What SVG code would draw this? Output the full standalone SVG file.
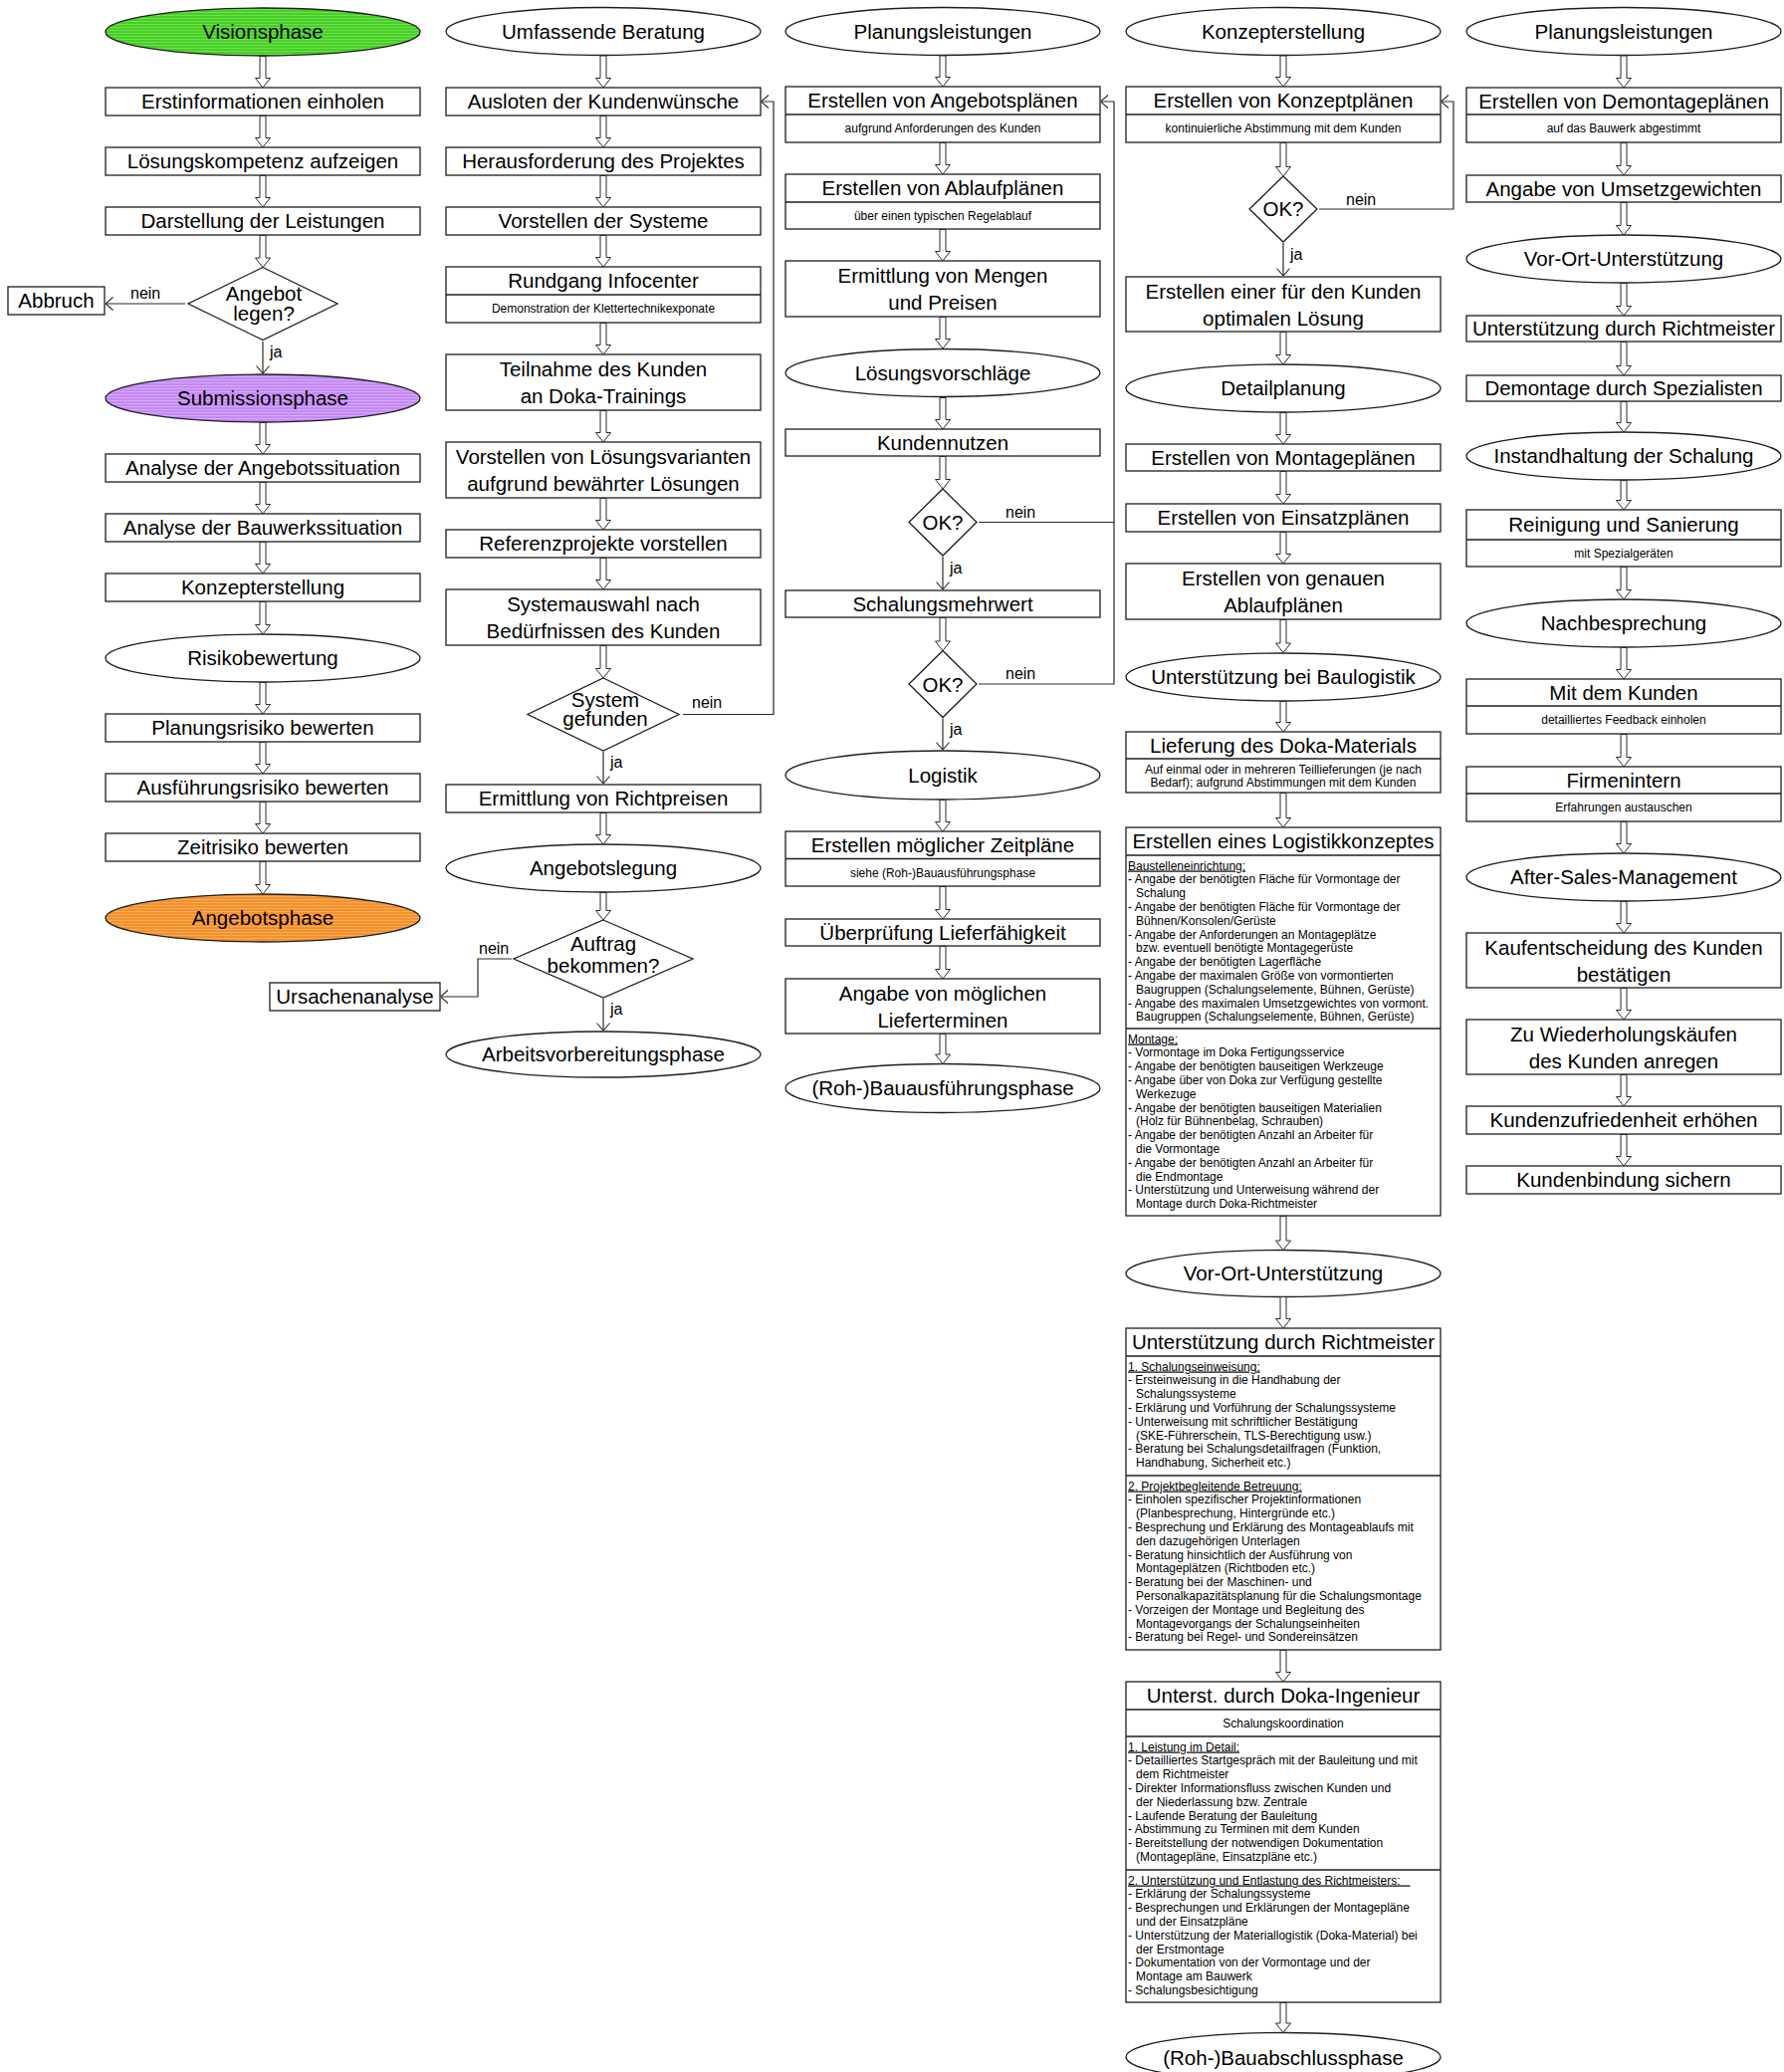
<svg xmlns="http://www.w3.org/2000/svg" width="1792" height="2081" viewBox="0 0 1792 2081">
<style>
.nd rect,.nd ellipse,.nd polygon{fill:#fff;stroke:#1e1e1e;stroke-width:1.3}
.dv{stroke:#1e1e1e;stroke-width:1.3}
text{font-family:"Liberation Sans",Arial,sans-serif;fill:#000}
.t{font-size:20.5px;text-anchor:middle}
.s{font-size:12px;text-anchor:middle}
.b{font-size:12px}
.u{text-decoration:underline}
.l{font-size:16px}
.ba{fill:#fff;stroke:#2a2a2a;stroke-width:1}
.ln{fill:none;stroke:#2a2a2a;stroke-width:1.2}
.ar{marker-end:url(#oa)}
</style>
<defs>
<pattern id="pV" width="8" height="3" patternUnits="userSpaceOnUse"><rect width="8" height="3" fill="#47cf26"/><rect width="8" height="1" fill="#6ee04e"/></pattern>
<pattern id="pS" width="8" height="3" patternUnits="userSpaceOnUse"><rect width="8" height="3" fill="#c489f4"/><rect width="8" height="1" fill="#d6a9fb"/></pattern>
<pattern id="pA" width="8" height="3" patternUnits="userSpaceOnUse"><rect width="8" height="3" fill="#f5912a"/><rect width="8" height="1" fill="#f8ac5c"/></pattern>
<marker id="oa" viewBox="0 0 8 14" refX="8" refY="7" markerWidth="8" markerHeight="14" markerUnits="userSpaceOnUse" orient="auto"><path d="M0.5,0.5 L8,7 L0.5,13.5" fill="none" stroke="#2a2a2a" stroke-width="1.1"/></marker>
</defs>
<rect width="1792" height="2081" fill="#fff"/>

<!-- Column 1 -->
<g id="c1-visionsphase" class="nd"><ellipse cx="264" cy="32" rx="158" ry="24" style="fill:url(#pV)"/><text class="t" x="264" y="39">Visionsphase</text></g>
<g id="c1-erstinfo" class="nd"><rect x="106" y="88" width="316" height="28"/><text class="t" x="264" y="109">Erstinformationen einholen</text></g>
<g id="c1-loesungskompetenz" class="nd"><rect x="106" y="148" width="316" height="28"/><text class="t" x="264" y="169">Lösungskompetenz aufzeigen</text></g>
<g id="c1-darstellung" class="nd"><rect x="106" y="208" width="316" height="28"/><text class="t" x="264" y="229">Darstellung der Leistungen</text></g>
<g id="c1-angebot-legen" class="nd"><polygon points="264,268.5 339,305 264,341.5 189,305"/><text class="t" x="265" y="302">Angebot</text><text class="t" x="265" y="322">legen?</text></g>
<g id="c1-abbruch" class="nd"><rect x="8" y="288" width="97" height="28"/><text class="t" x="56.5" y="309">Abbruch</text></g>
<g id="c1-submissionsphase" class="nd"><ellipse cx="264" cy="400" rx="158" ry="24" style="fill:url(#pS)"/><text class="t" x="264" y="407">Submissionsphase</text></g>
<g id="c1-analyse-angebot" class="nd"><rect x="106" y="456" width="316" height="28"/><text class="t" x="264" y="477">Analyse der Angebotssituation</text></g>
<g id="c1-analyse-bauwerk" class="nd"><rect x="106" y="516" width="316" height="28"/><text class="t" x="264" y="537">Analyse der Bauwerkssituation</text></g>
<g id="c1-konzepterstellung" class="nd"><rect x="106" y="576" width="316" height="28"/><text class="t" x="264" y="597">Konzepterstellung</text></g>
<g id="c1-risikobewertung" class="nd"><ellipse cx="264" cy="661" rx="158" ry="24"/><text class="t" x="264" y="668">Risikobewertung</text></g>
<g id="c1-planungsrisiko" class="nd"><rect x="106" y="717" width="316" height="28"/><text class="t" x="264" y="738">Planungsrisiko bewerten</text></g>
<g id="c1-ausfuehrungsrisiko" class="nd"><rect x="106" y="777" width="316" height="28"/><text class="t" x="264" y="798">Ausführungsrisiko bewerten</text></g>
<g id="c1-zeitrisiko" class="nd"><rect x="106" y="837" width="316" height="28"/><text class="t" x="264" y="858">Zeitrisiko bewerten</text></g>
<g id="c1-angebotsphase" class="nd"><ellipse cx="264" cy="922" rx="158" ry="24" style="fill:url(#pA)"/><text class="t" x="264" y="929">Angebotsphase</text></g>

<!-- Column 2 -->
<g id="c2-beratung" class="nd"><ellipse cx="606" cy="31.5" rx="158" ry="24"/><text class="t" x="606" y="39">Umfassende Beratung</text></g>
<g id="c2-ausloten" class="nd"><rect x="448" y="88" width="316" height="28"/><text class="t" x="606" y="109">Ausloten der Kundenwünsche</text></g>
<g id="c2-herausforderung" class="nd"><rect x="448" y="148" width="316" height="28"/><text class="t" x="606" y="169">Herausforderung des Projektes</text></g>
<g id="c2-systeme" class="nd"><rect x="448" y="208" width="316" height="28"/><text class="t" x="606" y="229">Vorstellen der Systeme</text></g>
<g id="c2-rundgang" class="nd"><rect x="448" y="268" width="316" height="56"/><line class="dv" x1="448" y1="296" x2="764" y2="296"/><text class="t" x="606" y="289">Rundgang Infocenter</text><text class="s" x="606" y="314">Demonstration der Klettertechnikexponate</text></g>
<g id="c2-teilnahme" class="nd"><rect x="448" y="356" width="316" height="56"/><text class="t" x="606" y="377.5">Teilnahme des Kunden</text><text class="t" x="606" y="405">an Doka-Trainings</text></g>
<g id="c2-loesungsvarianten" class="nd"><rect x="448" y="444" width="316" height="56"/><text class="t" x="606" y="465.5">Vorstellen von Lösungsvarianten</text><text class="t" x="606" y="493">aufgrund bewährter Lösungen</text></g>
<g id="c2-referenz" class="nd"><rect x="448" y="532" width="316" height="28"/><text class="t" x="606" y="553">Referenzprojekte vorstellen</text></g>
<g id="c2-systemauswahl" class="nd"><rect x="448" y="592" width="316" height="56"/><text class="t" x="606" y="613.5">Systemauswahl nach</text><text class="t" x="606" y="641">Bedürfnissen des Kunden</text></g>
<g id="c2-system-gefunden" class="nd"><polygon points="606,681 682,717.5 606,754 530,717.5"/><text class="t" x="608" y="710">System</text><text class="t" x="608" y="729">gefunden</text></g>
<g id="c2-richtpreise" class="nd"><rect x="448" y="788" width="316" height="28"/><text class="t" x="606" y="809">Ermittlung von Richtpreisen</text></g>
<g id="c2-angebotslegung" class="nd"><ellipse cx="606" cy="872" rx="158" ry="24"/><text class="t" x="606" y="879">Angebotslegung</text></g>
<g id="c2-auftrag" class="nd"><polygon points="606,924 696,963 606,1002 516,963"/><text class="t" x="606" y="955">Auftrag</text><text class="t" x="606" y="977">bekommen?</text></g>
<g id="c2-ursachenanalyse" class="nd"><rect x="271" y="987" width="171" height="28"/><text class="t" x="356.5" y="1008">Ursachenanalyse</text></g>
<g id="c2-arbeitsvorbereitung" class="nd"><ellipse cx="606" cy="1059" rx="158" ry="23"/><text class="t" x="606" y="1066">Arbeitsvorbereitungsphase</text></g>

<!-- Column 3 -->
<g id="c3-planung" class="nd"><ellipse cx="947" cy="31.5" rx="158" ry="24"/><text class="t" x="947" y="39">Planungsleistungen</text></g>
<g id="c3-angebotsplaene" class="nd"><rect x="789" y="87" width="316" height="56"/><line class="dv" x1="789" y1="115" x2="1105" y2="115"/><text class="t" x="947" y="108">Erstellen von Angebotsplänen</text><text class="s" x="947" y="133">aufgrund Anforderungen des Kunden</text></g>
<g id="c3-ablaufplaene" class="nd"><rect x="789" y="175" width="316" height="55"/><line class="dv" x1="789" y1="203" x2="1105" y2="203"/><text class="t" x="947" y="196">Erstellen von Ablaufplänen</text><text class="s" x="947" y="221">über einen typischen Regelablauf</text></g>
<g id="c3-mengen" class="nd"><rect x="789" y="262" width="316" height="56"/><text class="t" x="947" y="283.5">Ermittlung von Mengen</text><text class="t" x="947" y="311">und Preisen</text></g>
<g id="c3-loesungsvorschlaege" class="nd"><ellipse cx="947" cy="374.5" rx="158" ry="24"/><text class="t" x="947" y="382">Lösungsvorschläge</text></g>
<g id="c3-kundennutzen" class="nd"><rect x="789" y="431" width="316" height="27"/><text class="t" x="947" y="451.5">Kundennutzen</text></g>
<g id="c3-ok1" class="nd"><polygon points="947,491 981,524.5 947,558 913,524.5"/><text class="t" x="947" y="532">OK?</text></g>
<g id="c3-mehrwert" class="nd"><rect x="789" y="593" width="316" height="27"/><text class="t" x="947" y="613.5">Schalungsmehrwert</text></g>
<g id="c3-ok2" class="nd"><polygon points="947,653.5 981,687 947,720.5 913,687"/><text class="t" x="947" y="694.5">OK?</text></g>
<g id="c3-logistik" class="nd"><ellipse cx="947" cy="778.5" rx="158" ry="24.5"/><text class="t" x="947" y="786">Logistik</text></g>
<g id="c3-zeitplaene" class="nd"><rect x="789" y="835" width="316" height="55"/><line class="dv" x1="789" y1="862.5" x2="1105" y2="862.5"/><text class="t" x="947" y="856">Erstellen möglicher Zeitpläne</text><text class="s" x="947" y="881">siehe (Roh-)Bauausführungsphase</text></g>
<g id="c3-lieferfaehigkeit" class="nd"><rect x="789" y="923" width="316" height="27"/><text class="t" x="947" y="944">Überprüfung Lieferfähigkeit</text></g>
<g id="c3-liefertermine" class="nd"><rect x="789" y="983" width="316" height="55"/><text class="t" x="947" y="1004.5">Angabe von möglichen</text><text class="t" x="947" y="1032">Lieferterminen</text></g>
<g id="c3-bauausfuehrung" class="nd"><ellipse cx="947" cy="1093" rx="158" ry="24.5"/><text class="t" x="947" y="1100">(Roh-)Bauausführungsphase</text></g>

<!-- Column 4 -->
<g id="c4-konzept" class="nd"><ellipse cx="1289" cy="31.5" rx="158" ry="24"/><text class="t" x="1289" y="39">Konzepterstellung</text></g>
<g id="c4-konzeptplaene" class="nd"><rect x="1131" y="87" width="316" height="56"/><line class="dv" x1="1131" y1="115" x2="1447" y2="115"/><text class="t" x="1289" y="108">Erstellen von Konzeptplänen</text><text class="s" x="1289" y="133">kontinuierliche Abstimmung mit dem Kunden</text></g>
<g id="c4-ok" class="nd"><polygon points="1289,177 1323,210 1289,243 1255,210"/><text class="t" x="1289" y="217">OK?</text></g>
<g id="c4-optimal" class="nd"><rect x="1131" y="278" width="316" height="55"/><text class="t" x="1289" y="299.5">Erstellen einer für den Kunden</text><text class="t" x="1289" y="327">optimalen Lösung</text></g>
<g id="c4-detailplanung" class="nd"><ellipse cx="1289" cy="390" rx="158" ry="24"/><text class="t" x="1289" y="397">Detailplanung</text></g>
<g id="c4-montageplaene" class="nd"><rect x="1131" y="446" width="316" height="27"/><text class="t" x="1289" y="466.5">Erstellen von Montageplänen</text></g>
<g id="c4-einsatzplaene" class="nd"><rect x="1131" y="506" width="316" height="28"/><text class="t" x="1289" y="527">Erstellen von Einsatzplänen</text></g>
<g id="c4-genaue-ablaufplaene" class="nd"><rect x="1131" y="566" width="316" height="56"/><text class="t" x="1289" y="587.5">Erstellen von genauen</text><text class="t" x="1289" y="615">Ablaufplänen</text></g>
<g id="c4-baulogistik" class="nd"><ellipse cx="1289" cy="680" rx="158" ry="24"/><text class="t" x="1289" y="687">Unterstützung bei Baulogistik</text></g>
<g id="c4-lieferung" class="nd"><rect x="1131" y="735" width="316" height="61"/><line class="dv" x1="1131" y1="762" x2="1447" y2="762"/><text class="t" x="1289" y="756">Lieferung des Doka-Materials</text><text class="s" x="1289" y="777">Auf einmal oder in mehreren Teillieferungen (je nach</text><text class="s" x="1289" y="790">Bedarf); aufgrund Abstimmungen mit dem Kunden</text></g>
<g id="c4-logistikkonzept" class="nd"><rect x="1131" y="831" width="316" height="390"/><line class="dv" x1="1131" y1="859" x2="1447" y2="859"/><line class="dv" x1="1131" y1="1033" x2="1447" y2="1033"/><text class="t" x="1289" y="852">Erstellen eines Logistikkonzeptes</text>
<text class="b"><tspan class="u" x="1133" y="873.5">Baustelleneinrichtung:</tspan><tspan x="1133" y="887.3">- Angabe der benötigten Fläche für Vormontage der</tspan><tspan x="1141" y="901.1">Schalung</tspan><tspan x="1133" y="914.9">- Angabe der benötigten Fläche für Vormontage der</tspan><tspan x="1141" y="928.7">Bühnen/Konsolen/Gerüste</tspan><tspan x="1133" y="942.5">- Angabe der Anforderungen an Montageplätze</tspan><tspan x="1141" y="956.3">bzw. eventuell benötigte Montagegerüste</tspan><tspan x="1133" y="970.1">- Angabe der benötigten Lagerfläche</tspan><tspan x="1133" y="983.9">- Angabe der maximalen Größe von vormontierten</tspan><tspan x="1141" y="997.7">Baugruppen (Schalungselemente, Bühnen, Gerüste)</tspan><tspan x="1133" y="1011.5">- Angabe des maximalen Umsetzgewichtes von vormont.</tspan><tspan x="1141" y="1025.3">Baugruppen (Schalungselemente, Bühnen, Gerüste)</tspan></text>
<text class="b"><tspan class="u" x="1133" y="1047.5">Montage:</tspan><tspan x="1133" y="1061.3">- Vormontage im Doka Fertigungsservice</tspan><tspan x="1133" y="1075.1">- Angabe der benötigten bauseitigen Werkzeuge</tspan><tspan x="1133" y="1088.9">- Angabe über von Doka zur Verfügung gestellte</tspan><tspan x="1141" y="1102.7">Werkezuge</tspan><tspan x="1133" y="1116.5">- Angabe der benötigten bauseitigen Materialien</tspan><tspan x="1141" y="1130.3">(Holz für Bühnenbelag, Schrauben)</tspan><tspan x="1133" y="1144.1">- Angabe der benötigten Anzahl an Arbeiter für</tspan><tspan x="1141" y="1157.9">die Vormontage</tspan><tspan x="1133" y="1171.7">- Angabe der benötigten Anzahl an Arbeiter für</tspan><tspan x="1141" y="1185.5">die Endmontage</tspan><tspan x="1133" y="1199.3">- Unterstützung und Unterweisung während der</tspan><tspan x="1141" y="1213.1">Montage durch Doka-Richtmeister</tspan></text></g>
<g id="c4-vor-ort" class="nd"><ellipse cx="1289" cy="1279" rx="158" ry="23.5"/><text class="t" x="1289" y="1286">Vor-Ort-Unterstützung</text></g>
<g id="c4-richtmeister" class="nd"><rect x="1131" y="1334" width="316" height="323"/><line class="dv" x1="1131" y1="1362" x2="1447" y2="1362"/><line class="dv" x1="1131" y1="1482" x2="1447" y2="1482"/><text class="t" x="1289" y="1355">Unterstützung durch Richtmeister</text>
<text class="b"><tspan class="u" x="1133" y="1376.5">1. Schalungseinweisung:</tspan><tspan x="1133" y="1390.3">- Ersteinweisung in die Handhabung der</tspan><tspan x="1141" y="1404.1">Schalungssysteme</tspan><tspan x="1133" y="1417.9">- Erklärung und Vorführung der Schalungssysteme</tspan><tspan x="1133" y="1431.7">- Unterweisung mit schriftlicher Bestätigung</tspan><tspan x="1141" y="1445.5">(SKE-Führerschein, TLS-Berechtigung usw.)</tspan><tspan x="1133" y="1459.3">- Beratung bei Schalungsdetailfragen (Funktion,</tspan><tspan x="1141" y="1473.1">Handhabung, Sicherheit etc.)</tspan></text>
<text class="b"><tspan class="u" x="1133" y="1496.5">2. Projektbegleitende Betreuung:</tspan><tspan x="1133" y="1510.3">- Einholen spezifischer Projektinformationen</tspan><tspan x="1141" y="1524.1">(Planbesprechung, Hintergründe etc.)</tspan><tspan x="1133" y="1537.9">- Besprechung und Erklärung des Montageablaufs mit</tspan><tspan x="1141" y="1551.7">den dazugehörigen Unterlagen</tspan><tspan x="1133" y="1565.5">- Beratung hinsichtlich der Ausführung von</tspan><tspan x="1141" y="1579.3">Montageplätzen (Richtboden etc.)</tspan><tspan x="1133" y="1593.1">- Beratung bei der Maschinen- und</tspan><tspan x="1141" y="1606.9">Personalkapazitätsplanung für die Schalungsmontage</tspan><tspan x="1133" y="1620.7">- Vorzeigen der Montage und Begleitung des</tspan><tspan x="1141" y="1634.5">Montagevorgangs der Schalungseinheiten</tspan><tspan x="1133" y="1648.3">- Beratung bei Regel- und Sondereinsätzen</tspan></text></g>
<g id="c4-ingenieur" class="nd"><rect x="1131" y="1689" width="316" height="322"/><line class="dv" x1="1131" y1="1717" x2="1447" y2="1717"/><line class="dv" x1="1131" y1="1744" x2="1447" y2="1744"/><line class="dv" x1="1131" y1="1878" x2="1447" y2="1878"/><text class="t" x="1289" y="1710">Unterst. durch Doka-Ingenieur</text><text class="s" x="1289" y="1735">Schalungskoordination</text>
<text class="b"><tspan class="u" x="1133" y="1758.5">1. Leistung im Detail:</tspan><tspan x="1133" y="1772.3">- Detailliertes Startgespräch mit der Bauleitung und mit</tspan><tspan x="1141" y="1786.1">dem Richtmeister</tspan><tspan x="1133" y="1799.9">- Direkter Informationsfluss zwischen Kunden und</tspan><tspan x="1141" y="1813.7">der Niederlassung bzw. Zentrale</tspan><tspan x="1133" y="1827.5">- Laufende Beratung der Bauleitung</tspan><tspan x="1133" y="1841.3">- Abstimmung zu Terminen mit dem Kunden</tspan><tspan x="1133" y="1855.1">- Bereitstellung der notwendigen Dokumentation</tspan><tspan x="1141" y="1868.9">(Montagepläne, Einsatzpläne etc.)</tspan></text>
<text class="b"><tspan class="u" x="1133" y="1892.5">2. Unterstützung und Entlastung des Richtmeisters:&#160;&#160;&#160;</tspan><tspan x="1133" y="1906.3">- Erklärung der Schalungssysteme</tspan><tspan x="1133" y="1920.1">- Besprechungen und Erklärungen der Montagepläne</tspan><tspan x="1141" y="1933.9">und der Einsatzpläne</tspan><tspan x="1133" y="1947.7">- Unterstützung der Materiallogistik (Doka-Material) bei</tspan><tspan x="1141" y="1961.5">der Erstmontage</tspan><tspan x="1133" y="1975.3">- Dokumentation von der Vormontage und der</tspan><tspan x="1141" y="1989.1">Montage am Bauwerk</tspan><tspan x="1133" y="2002.9">- Schalungsbesichtigung</tspan></text></g>
<g id="c4-bauabschluss" class="nd"><ellipse cx="1289" cy="2066" rx="158" ry="24.5"/><text class="t" x="1289" y="2074">(Roh-)Bauabschlussphase</text></g>

<!-- Column 5 -->
<g id="c5-planung" class="nd"><ellipse cx="1631" cy="31.5" rx="158" ry="24"/><text class="t" x="1631" y="39">Planungsleistungen</text></g>
<g id="c5-demontageplaene" class="nd"><rect x="1473" y="88" width="316" height="55"/><line class="dv" x1="1473" y1="115" x2="1789" y2="115"/><text class="t" x="1631" y="108.5">Erstellen von Demontageplänen</text><text class="s" x="1631" y="133">auf das Bauwerk abgestimmt</text></g>
<g id="c5-umsetzgewichte" class="nd"><rect x="1473" y="176" width="316" height="27"/><text class="t" x="1631" y="196.5">Angabe von Umsetzgewichten</text></g>
<g id="c5-vor-ort" class="nd"><ellipse cx="1631" cy="260" rx="158" ry="24"/><text class="t" x="1631" y="267">Vor-Ort-Unterstützung</text></g>
<g id="c5-richtmeister" class="nd"><rect x="1473" y="317" width="316" height="26"/><text class="t" x="1631" y="337">Unterstützung durch Richtmeister</text></g>
<g id="c5-demontage" class="nd"><rect x="1473" y="377" width="316" height="26"/><text class="t" x="1631" y="397">Demontage durch Spezialisten</text></g>
<g id="c5-instandhaltung" class="nd"><ellipse cx="1631" cy="458" rx="158" ry="24"/><text class="t" x="1631" y="465">Instandhaltung der Schalung</text></g>
<g id="c5-reinigung" class="nd"><rect x="1473" y="512" width="316" height="57"/><line class="dv" x1="1473" y1="542" x2="1789" y2="542"/><text class="t" x="1631" y="534">Reinigung und Sanierung</text><text class="s" x="1631" y="560">mit Spezialgeräten</text></g>
<g id="c5-nachbesprechung" class="nd"><ellipse cx="1631" cy="626" rx="158" ry="24"/><text class="t" x="1631" y="633">Nachbesprechung</text></g>
<g id="c5-kunde" class="nd"><rect x="1473" y="682" width="316" height="55"/><line class="dv" x1="1473" y1="709" x2="1789" y2="709"/><text class="t" x="1631" y="703">Mit dem Kunden</text><text class="s" x="1631" y="727">detailliertes Feedback einholen</text></g>
<g id="c5-firmenintern" class="nd"><rect x="1473" y="770" width="316" height="55"/><line class="dv" x1="1473" y1="797" x2="1789" y2="797"/><text class="t" x="1631" y="791">Firmenintern</text><text class="s" x="1631" y="815">Erfahrungen austauschen</text></g>
<g id="c5-after-sales" class="nd"><ellipse cx="1631" cy="881" rx="158" ry="24"/><text class="t" x="1631" y="888">After-Sales-Management</text></g>
<g id="c5-kaufentscheidung" class="nd"><rect x="1473" y="937" width="316" height="55"/><text class="t" x="1631" y="958.5">Kaufentscheidung des Kunden</text><text class="t" x="1631" y="986">bestätigen</text></g>
<g id="c5-wiederholung" class="nd"><rect x="1473" y="1024" width="316" height="55"/><text class="t" x="1631" y="1045.5">Zu Wiederholungskäufen</text><text class="t" x="1631" y="1073">des Kunden anregen</text></g>
<g id="c5-zufriedenheit" class="nd"><rect x="1473" y="1111" width="316" height="28"/><text class="t" x="1631" y="1132">Kundenzufriedenheit erhöhen</text></g>
<g id="c5-kundenbindung" class="nd"><rect x="1473" y="1171" width="316" height="28"/><text class="t" x="1631" y="1192">Kundenbindung sichern</text></g>

<!-- Connectors -->
<g id="connectors">
<g class="ba">
<path d="M261,56.5H267V78.5H271.5L264,88L256.5,78.5H261Z"/>
<path d="M261,116.5H267V138.5H271.5L264,148L256.5,138.5H261Z"/>
<path d="M261,176.5H267V198.5H271.5L264,208L256.5,198.5H261Z"/>
<path d="M261,236.5H267V259H271.5L264,268.5L256.5,259H261Z"/>
<path d="M261,424.5H267V446.5H271.5L264,456L256.5,446.5H261Z"/>
<path d="M261,484.5H267V506.5H271.5L264,516L256.5,506.5H261Z"/>
<path d="M261,544.5H267V566.5H271.5L264,576L256.5,566.5H261Z"/>
<path d="M261,604.5H267V627.5H271.5L264,637L256.5,627.5H261Z"/>
<path d="M261,685.5H267V707.5H271.5L264,717L256.5,707.5H261Z"/>
<path d="M261,745.5H267V767.5H271.5L264,777L256.5,767.5H261Z"/>
<path d="M261,805.5H267V827.5H271.5L264,837L256.5,827.5H261Z"/>
<path d="M261,865.5H267V888.5H271.5L264,898L256.5,888.5H261Z"/>

<path d="M603,56H609V78.5H613.5L606,88L598.5,78.5H603Z"/>
<path d="M603,116.5H609V138.5H613.5L606,148L598.5,138.5H603Z"/>
<path d="M603,176.5H609V198.5H613.5L606,208L598.5,198.5H603Z"/>
<path d="M603,236.5H609V258.5H613.5L606,268L598.5,258.5H603Z"/>
<path d="M603,324.5H609V346.5H613.5L606,356L598.5,346.5H603Z"/>
<path d="M603,412.5H609V434.5H613.5L606,444L598.5,434.5H603Z"/>
<path d="M603,500.5H609V522.5H613.5L606,532L598.5,522.5H603Z"/>
<path d="M603,560.5H609V582.5H613.5L606,592L598.5,582.5H603Z"/>
<path d="M603,648.5H609V671.5H613.5L606,681L598.5,671.5H603Z"/>
<path d="M603,816.5H609V838.5H613.5L606,848L598.5,838.5H603Z"/>
<path d="M603,896.5H609V914.5H613.5L606,924L598.5,914.5H603Z"/>

<path d="M944,56H950V77.5H954.5L947,87L939.5,77.5H944Z"/>
<path d="M944,143.5H950V165.5H954.5L947,175L939.5,165.5H944Z"/>
<path d="M944,230.5H950V252.5H954.5L947,262L939.5,252.5H944Z"/>
<path d="M944,318.5H950V340.5H954.5L947,350L939.5,340.5H944Z"/>
<path d="M944,399.5H950V421.5H954.5L947,431L939.5,421.5H944Z"/>
<path d="M944,458.5H950V481.5H954.5L947,491L939.5,481.5H944Z"/>
<path d="M944,620.5H950V644H954.5L947,653.5L939.5,644H944Z"/>
<path d="M944,803.5H950V825.5H954.5L947,835L939.5,825.5H944Z"/>
<path d="M944,890.5H950V913.5H954.5L947,923L939.5,913.5H944Z"/>
<path d="M944,950.5H950V973.5H954.5L947,983L939.5,973.5H944Z"/>
<path d="M944,1038.5H950V1059H954.5L947,1068.5L939.5,1059H944Z"/>

<path d="M1286,56H1292V77.5H1296.5L1289,87L1281.5,77.5H1286Z"/>
<path d="M1286,143.5H1292V167.5H1296.5L1289,177L1281.5,167.5H1286Z"/>
<path d="M1286,333.5H1292V356.5H1296.5L1289,366L1281.5,356.5H1286Z"/>
<path d="M1286,414.5H1292V436.5H1296.5L1289,446L1281.5,436.5H1286Z"/>
<path d="M1286,473.5H1292V496.5H1296.5L1289,506L1281.5,496.5H1286Z"/>
<path d="M1286,534.5H1292V556.5H1296.5L1289,566L1281.5,556.5H1286Z"/>
<path d="M1286,622.5H1292V646H1296.5L1289,655.5L1281.5,646H1286Z"/>
<path d="M1286,704.5H1292V725.5H1296.5L1289,735L1281.5,725.5H1286Z"/>
<path d="M1286,796.5H1292V821.5H1296.5L1289,831L1281.5,821.5H1286Z"/>
<path d="M1286,1221.5H1292V1246H1296.5L1289,1255.5L1281.5,1246H1286Z"/>
<path d="M1286,1302.5H1292V1324.5H1296.5L1289,1334L1281.5,1324.5H1286Z"/>
<path d="M1286,1657.5H1292V1679.5H1296.5L1289,1689L1281.5,1679.5H1286Z"/>
<path d="M1286,2011.5H1292V2032H1296.5L1289,2041.5L1281.5,2032H1286Z"/>

<path d="M1628,56H1634V78.5H1638.5L1631,88L1623.5,78.5H1628Z"/>
<path d="M1628,143.5H1634V166.5H1638.5L1631,176L1623.5,166.5H1628Z"/>
<path d="M1628,203.5H1634V226.5H1638.5L1631,236L1623.5,226.5H1628Z"/>
<path d="M1628,284.5H1634V307.5H1638.5L1631,317L1623.5,307.5H1628Z"/>
<path d="M1628,343.5H1634V367.5H1638.5L1631,377L1623.5,367.5H1628Z"/>
<path d="M1628,403.5H1634V424.5H1638.5L1631,434L1623.5,424.5H1628Z"/>
<path d="M1628,482.5H1634V502.5H1638.5L1631,512L1623.5,502.5H1628Z"/>
<path d="M1628,569.5H1634V592.5H1638.5L1631,602L1623.5,592.5H1628Z"/>
<path d="M1628,650.5H1634V672.5H1638.5L1631,682L1623.5,672.5H1628Z"/>
<path d="M1628,737.5H1634V760.5H1638.5L1631,770L1623.5,760.5H1628Z"/>
<path d="M1628,825.5H1634V847.5H1638.5L1631,857L1623.5,847.5H1628Z"/>
<path d="M1628,905.5H1634V927.5H1638.5L1631,937L1623.5,927.5H1628Z"/>
<path d="M1628,992.5H1634V1014.5H1638.5L1631,1024L1623.5,1014.5H1628Z"/>
<path d="M1628,1079.5H1634V1101.5H1638.5L1631,1111L1623.5,1101.5H1628Z"/>
<path d="M1628,1139.5H1634V1161.5H1638.5L1631,1171L1623.5,1161.5H1628Z"/>
</g>

<!-- decision branches -->
<path class="ln ar" d="M264,343V375"/>
<path class="ln ar" d="M186,305H106"/>
<path class="ln ar" d="M606,755V787"/>
<path class="ln ar" d="M686,717.5H777V102H764.5"/>
<path class="ln ar" d="M514,963H480V1001H442.5"/>
<path class="ln ar" d="M606,1003V1035"/>
<path class="ln ar" d="M983,524.5H1119V102H1105.5"/>
<path class="ln" d="M983,687H1119V524.5"/>
<path class="ln ar" d="M947,559V592"/>
<path class="ln ar" d="M947,721.5V753"/>
<path class="ln ar" d="M1325,210H1460V102H1447.5"/>
<path class="ln ar" d="M1289,244V277"/>

<text class="l" x="131" y="300">nein</text>
<text class="l" x="271" y="359">ja</text>
<text class="l" x="695" y="711">nein</text>
<text class="l" x="613" y="771">ja</text>
<text class="l" x="481" y="958">nein</text>
<text class="l" x="613" y="1019">ja</text>
<text class="l" x="1010" y="520">nein</text>
<text class="l" x="954" y="576">ja</text>
<text class="l" x="1010" y="682">nein</text>
<text class="l" x="954" y="738">ja</text>
<text class="l" x="1352" y="206">nein</text>
<text class="l" x="1296" y="261">ja</text>
</g>
</svg>
